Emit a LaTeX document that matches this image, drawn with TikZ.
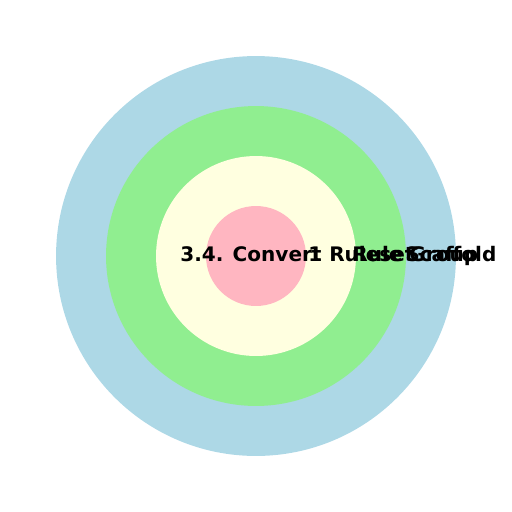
\documentclass[tikz,border=0pt]{standalone}
\usepackage{fontspec}
\setmainfont{DejaVu Sans}
\usepackage{tikz}
\definecolor{ringblue}{HTML}{ADD8E6}
\definecolor{ringgreen}{HTML}{90EE90}
\definecolor{ringyellow}{HTML}{FFFFE0}
\definecolor{ringpink}{HTML}{FFB6C1}
\begin{document}
\begin{tikzpicture}[x=0.02cm, y=-0.02cm,
                    ring/.style={circle,draw=none,inner sep=0pt},
                    label node/.style={font=\bfseries\fontsize{11.4}{13}\selectfont,inner sep=0pt,anchor=base west}]
  \useasboundingbox (0,0) rectangle (512,512);

  \node[ring, fill=ringblue,   minimum size=8cm] (outer) at (256,256) {};
  \node[ring, fill=ringgreen,  minimum size=6cm] (second) at (256,256) {};
  \node[ring, fill=ringyellow, minimum size=4cm] (third) at (256,256) {};
  \node[ring, fill=ringpink,   minimum size=2cm] (core) at (256,256) {};

  \node[label node] (convert) at (180,261) {3.4. Convert};
  \node[label node] (ruleset) at (308,261) {1 Ruleset};
  \node[label node] (group) at (352,261) {Rule Group};
  \node[label node] (scaffold) at (405,261) {Scaffold};
\end{tikzpicture}
\end{document}
